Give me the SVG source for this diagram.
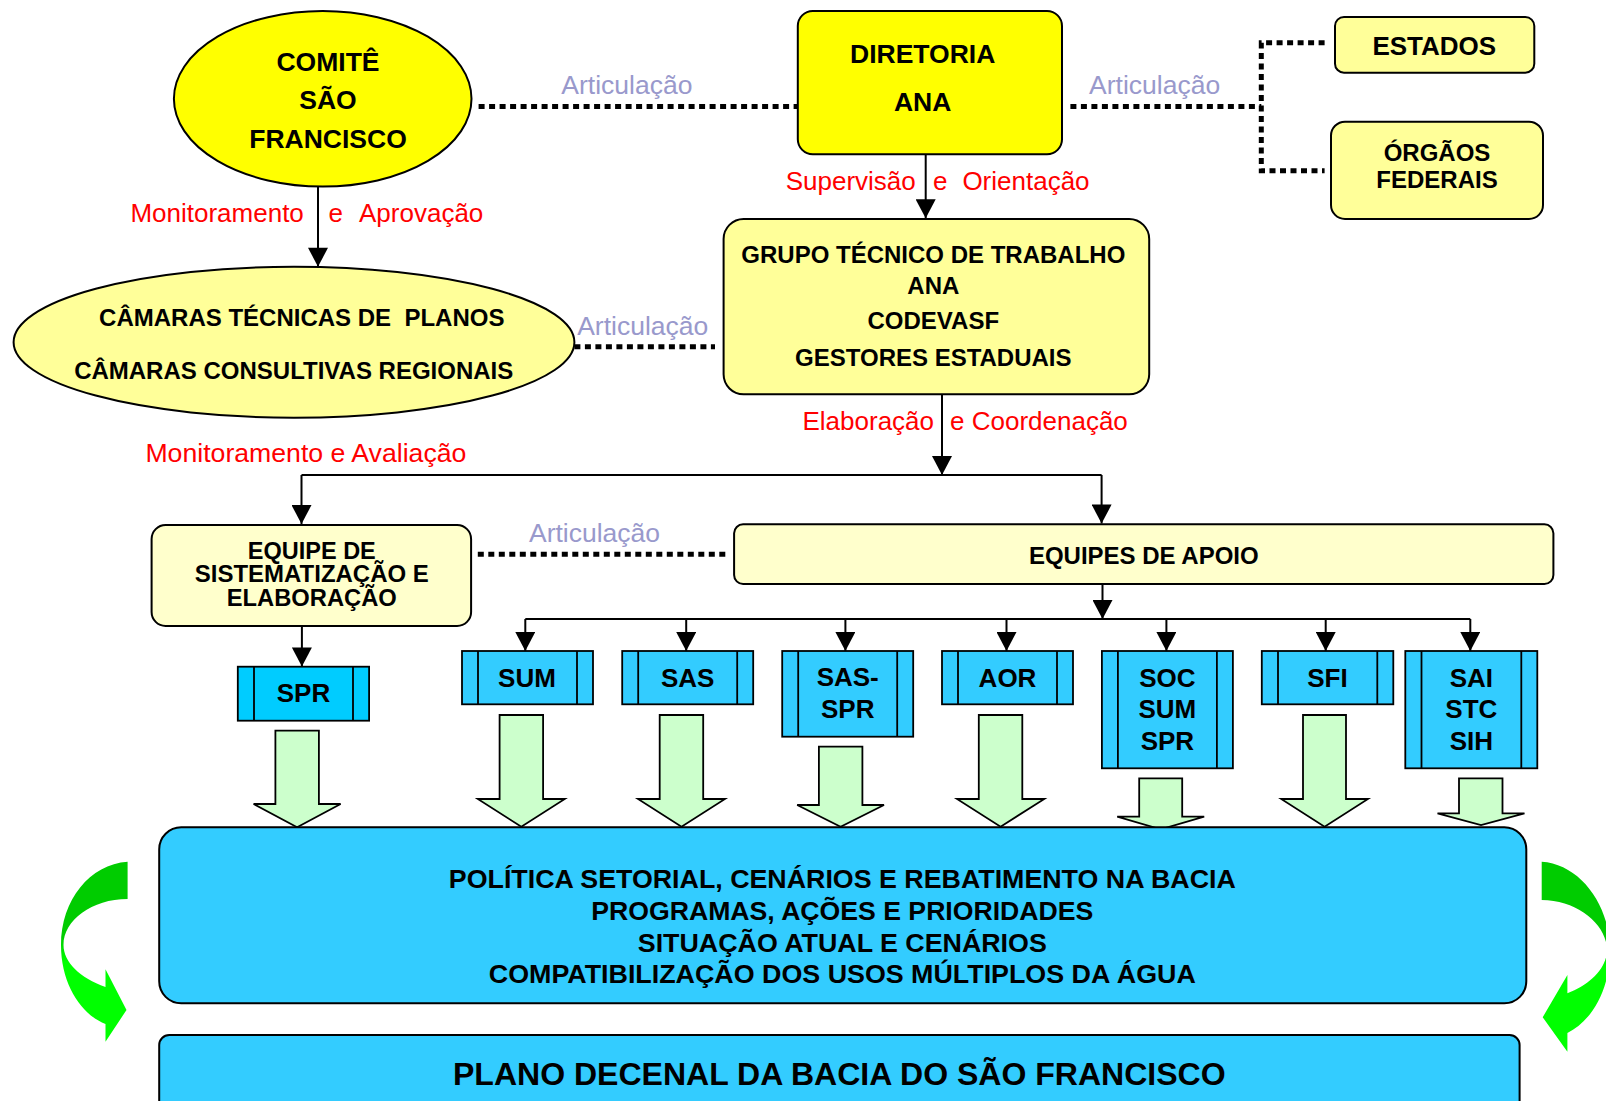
<svg xmlns="http://www.w3.org/2000/svg" width="1606" height="1101" viewBox="0 0 1606 1101">
<style>
.t{font-family:"Liberation Sans",Arial,sans-serif;font-weight:bold;fill:#000;text-anchor:middle}
.red{font-family:"Liberation Sans",Arial,sans-serif;font-size:26px;fill:#FF0000}
.art{font-family:"Liberation Sans",Arial,sans-serif;font-size:26.5px;fill:#9999CC;text-anchor:middle}
.dot{stroke:#000;stroke-width:5;stroke-dasharray:6 4.5;fill:none}
.conn{stroke:#000;stroke-width:2;fill:none}
.ar{marker-end:url(#ah)}
.blk{fill:#CCFFCC;stroke:#000;stroke-width:1.8;stroke-linejoin:miter}
.proc{fill:#33CCFF;stroke:#000;stroke-width:1.8}
.pl{stroke:#000;stroke-width:1.8}
.nd{stroke:#000;stroke-width:2}
</style>
<defs>
<marker id="ah" markerUnits="userSpaceOnUse" markerWidth="20" markerHeight="20" viewBox="0 0 18 19" refX="18" refY="9.5" orient="auto">
<path d="M0,0 L18,9.5 L0,19 Z" fill="#000"/>
</marker>
<linearGradient id="gg" x1="0" y1="0" x2="0" y2="1">
<stop offset="0" stop-color="#00CC00"/>
<stop offset="0.42" stop-color="#00CC00"/>
<stop offset="0.56" stop-color="#00FF00"/>
<stop offset="1" stop-color="#00FF00"/>
</linearGradient>
</defs>
<rect width="1606" height="1101" fill="#fff"/>

<g id="connectors">
<path class="dot" d="M478.6,106.5 H797.8"/>
<path class="dot" d="M1070.4,106.5 H1261.3"/>
<path class="dot" d="M1324.6,42.7 H1261.3 V170.7 H1324.6"/>
<path class="dot" d="M574.4,346.7 H715"/>
<path class="dot" d="M477.8,554.3 H728.9"/>
<path class="conn ar" d="M318,186.7 V266.7"/>
<path class="conn ar" d="M925.7,154.3 V218.3"/>
<path class="conn ar" d="M942,394.3 V475"/>
<path class="conn" d="M301.5,475 H1101.6"/>
<path class="conn ar" d="M301.5,475 V524"/>
<path class="conn ar" d="M1101.6,475 V523.5"/>
<path class="conn ar" d="M301.9,626 V666.5"/>
<path class="conn ar" d="M1102.5,584 V619"/>
<path class="conn" d="M525.3,619 H1470.3"/>
<path class="conn ar" d="M525.3,619 V651"/>
<path class="conn ar" d="M686.2,619 V651"/>
<path class="conn ar" d="M845.4,619 V651"/>
<path class="conn ar" d="M1006.5,619 V651"/>
<path class="conn ar" d="M1166.4,619 V651"/>
<path class="conn ar" d="M1325.7,619 V651"/>
<path class="conn ar" d="M1470.3,619 V651"/>
<text class="art" x="626.9" y="94.4">Articulação</text>
<text class="art" x="1154.6" y="94.4">Articulação</text>
<text class="art" x="642.7" y="335">Articulação</text>
<text class="art" x="594.5" y="542.3">Articulação</text>
<text class="red" y="221.7"><tspan x="130.4">Monitoramento </tspan><tspan x="328.6">e </tspan><tspan x="359">Aprovação</tspan></text>
<text class="red" y="190"><tspan x="785.7">Supervisão </tspan><tspan x="932.9">e </tspan><tspan x="962.4">Orientação</tspan></text>
<text class="red" y="430"><tspan x="802.5">Elaboração </tspan><tspan x="950">e Coordenação</tspan></text>
<text class="red" x="145.4" y="461.7" textLength="321" lengthAdjust="spacingAndGlyphs">Monitoramento e Avaliação</text>
</g>

<g id="comite">
<ellipse class="nd" cx="322.7" cy="98.8" rx="148.8" ry="87.8" fill="#FFFF00"/>
<text class="t" font-size="26.5" x="328" y="71">COMITÊ</text>
<text class="t" font-size="26.5" x="328" y="109.3">SÃO</text>
<text class="t" font-size="26.5" x="328" y="148.3">FRANCISCO</text>
</g>

<g id="diretoria">
<rect class="nd" x="797.8" y="11" width="264.2" height="143.3" rx="15" fill="#FFFF00"/>
<text class="t" font-size="26.5" x="922.7" y="63.3">DIRETORIA</text>
<text class="t" font-size="26.5" x="922.7" y="111">ANA</text>
</g>

<g id="estados">
<rect class="nd" x="1335" y="17" width="199.3" height="55.7" rx="9" fill="#FFFF99"/>
<text class="t" font-size="26" x="1434.3" y="55">ESTADOS</text>
</g>

<g id="orgaos">
<rect class="nd" x="1331" y="121.7" width="212" height="97.3" rx="14" fill="#FFFF99"/>
<text class="t" font-size="24" x="1437" y="160.7">ÓRGÃOS</text>
<text class="t" font-size="24" x="1437" y="188.3">FEDERAIS</text>
</g>

<g id="camaras">
<ellipse class="nd" cx="294" cy="342.2" rx="280.4" ry="75.5" fill="#FFFF99"/>
<text class="t" font-size="24" x="301.8" y="326" xml:space="preserve" style="white-space:pre">CÂMARAS TÉCNICAS DE  PLANOS</text>
<text class="t" font-size="24" x="293.7" y="379.3">CÂMARAS CONSULTIVAS REGIONAIS</text>
</g>

<g id="gtt">
<rect class="nd" x="723.6" y="219" width="425.6" height="175.3" rx="20" fill="#FFFF99"/>
<text class="t" font-size="24" x="933.3" y="263.3">GRUPO TÉCNICO DE TRABALHO</text>
<text class="t" font-size="24" x="933.3" y="294.3">ANA</text>
<text class="t" font-size="24" x="933.3" y="329.3">CODEVASF</text>
<text class="t" font-size="24" x="933.3" y="365.7">GESTORES ESTADUAIS</text>
</g>

<g id="equipe">
<rect class="nd" x="151.6" y="525" width="319.5" height="101" rx="14" fill="#FFFFCC"/>
<text class="t" font-size="23.5" x="311.8" y="559">EQUIPE DE</text>
<text class="t" font-size="23.5" x="311.8" y="582.3" textLength="234" lengthAdjust="spacingAndGlyphs">SISTEMATIZAÇÃO E</text>
<text class="t" font-size="23.5" x="311.8" y="606" textLength="170" lengthAdjust="spacingAndGlyphs">ELABORAÇÃO</text>
</g>

<g id="apoio">
<rect class="nd" x="734.1" y="524.3" width="819.3" height="59.7" rx="9" fill="#FFFFCC"/>
<text class="t" font-size="24" x="1143.8" y="564.3">EQUIPES DE APOIO</text>
</g>

<g id="spr">
<rect class="proc" x="237.8" y="666.7" width="131.3" height="54" style="fill:#00CCFF"/>
<path class="pl" d="M254,666.7 V720.7 M353,666.7 V720.7"/>
<text class="t" font-size="26" x="303.5" y="702.3">SPR</text>
</g>

<g id="sum">
<rect class="proc" x="462" y="651" width="131" height="53.3"/>
<path class="pl" d="M478,651 V704.3 M577,651 V704.3"/>
<text class="t" font-size="26" x="527" y="687.3">SUM</text>
</g>

<g id="sas">
<rect class="proc" x="622.2" y="651" width="131" height="53.3"/>
<path class="pl" d="M638.2,651 V704.3 M737.2,651 V704.3"/>
<text class="t" font-size="26" x="687.7" y="687.3">SAS</text>
</g>

<g id="sas-spr">
<rect class="proc" x="782.2" y="651" width="131" height="85.7"/>
<path class="pl" d="M798.2,651 V736.7 M897.2,651 V736.7"/>
<text class="t" font-size="26" x="847.7" y="685.7">SAS-</text>
<text class="t" font-size="26" x="847.7" y="718.3">SPR</text>
</g>

<g id="aor">
<rect class="proc" x="942" y="651" width="131" height="53.3"/>
<path class="pl" d="M958,651 V704.3 M1057,651 V704.3"/>
<text class="t" font-size="26" x="1007.5" y="687.3">AOR</text>
</g>

<g id="soc">
<rect class="proc" x="1101.9" y="651" width="131" height="117.3"/>
<path class="pl" d="M1117.9,651 V768.3 M1216.9,651 V768.3"/>
<text class="t" font-size="26" x="1167.4" y="687">SOC</text>
<text class="t" font-size="26" x="1167.4" y="718.3">SUM</text>
<text class="t" font-size="26" x="1167.4" y="750">SPR</text>
</g>

<g id="sfi">
<rect class="proc" x="1261.8" y="651" width="131.5" height="53.3"/>
<path class="pl" d="M1278,651 V704.3 M1377.3,651 V704.3"/>
<text class="t" font-size="26" x="1327.5" y="687.3">SFI</text>
</g>

<g id="sai">
<rect class="proc" x="1405.3" y="651" width="132" height="117.3"/>
<path class="pl" d="M1421.5,651 V768.3 M1521.3,651 V768.3"/>
<text class="t" font-size="26" x="1471.3" y="687">SAI</text>
<text class="t" font-size="26" x="1471.3" y="718.3">STC</text>
<text class="t" font-size="26" x="1471.3" y="750">SIH</text>
</g>

<g id="block-arrows">
<path class="blk" d="M275.4,730.7 H318.9 V804 H340.6 L297.1,827.3 L253.6,804 H275.4 Z"/>
<path class="blk" d="M499.6,715 H543.1 V799 H564.8 L521.3,826.7 L477.8,799 H499.6 Z"/>
<path class="blk" d="M659.7,715 H703.2 V799 H725 L681.5,826.7 L638,799 H659.7 Z"/>
<path class="blk" d="M818.9,746.7 H862.4 V805 H884 L840.6,826.7 L797.2,805 H818.9 Z"/>
<path class="blk" d="M978.8,715 H1022.3 V799 H1044.3 L1000.6,826.7 L957,799 H978.8 Z"/>
<path class="blk" d="M1139.2,778.3 H1182.2 V816.7 H1204.2 L1160.7,829.3 L1117.2,816.7 H1139.2 Z"/>
<path class="blk" d="M1303,715 H1346 V799 H1368 L1324.6,826.7 L1281.2,799 H1303 Z"/>
<path class="blk" d="M1459,778.3 H1502.5 V813.3 H1524.5 L1481,825 L1437.5,813.3 H1459 Z"/>
</g>

<g id="politica">
<rect class="nd" x="159.2" y="827.3" width="1367.1" height="176" rx="22" fill="#33CCFF"/>
<text class="t" font-size="26.5" x="842.3" y="888.3" textLength="787" lengthAdjust="spacingAndGlyphs">POLÍTICA SETORIAL, CENÁRIOS E REBATIMENTO NA BACIA</text>
<text class="t" font-size="26.5" x="842.3" y="920" textLength="502" lengthAdjust="spacingAndGlyphs">PROGRAMAS, AÇÕES E PRIORIDADES</text>
<text class="t" font-size="26.5" x="842.3" y="951.7" textLength="409" lengthAdjust="spacingAndGlyphs">SITUAÇÃO ATUAL E CENÁRIOS</text>
<text class="t" font-size="26.5" x="842.3" y="983.3" textLength="707" lengthAdjust="spacingAndGlyphs">COMPATIBILIZAÇÃO DOS USOS MÚLTIPLOS DA ÁGUA</text>
</g>

<g id="plano">
<rect class="nd" x="159.2" y="1035" width="1360.4" height="100" rx="10" fill="#33CCFF"/>
<text class="t" font-size="31.5" x="839.3" y="1085" textLength="772.6" lengthAdjust="spacingAndGlyphs">PLANO DECENAL DA BACIA DO SÃO FRANCISCO</text>
</g>

<g id="cycle-arrows">
<path fill="url(#gg)" d="M127.6,861.7 C90,864 61,900 61,945 C61,985 82,1015 105.5,1024 L105.5,1041.7 L126.5,1010 L105.5,969.3 L105.5,987 C80,978 63.5,962 63.5,945 C63.5,920 92,899 127.6,899 Z"/>
<path fill="url(#gg)" d="M1541.7,861.7 C1580,864 1610,905 1610,950 C1610,992 1590,1022 1567.4,1033 L1567.4,1051.7 L1542.7,1017.3 L1567.4,975 L1567.4,993.3 C1590,985 1607,968 1607,950 C1607,925 1578,900 1541.7,900 Z"/>
</g>
</svg>
